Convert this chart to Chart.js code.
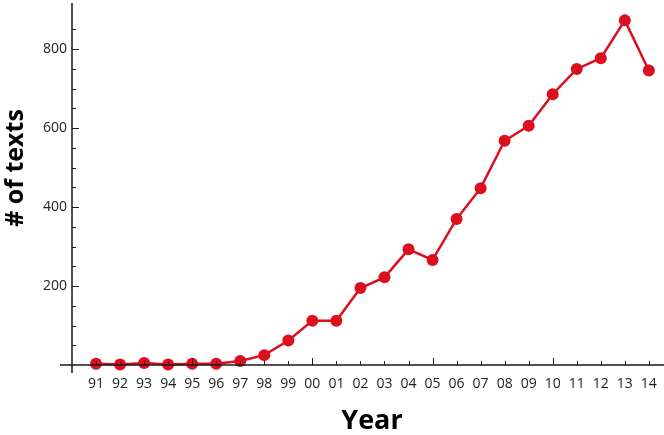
<!DOCTYPE html>
<html>
<head>
<meta charset="utf-8">
<script src="https://cdn.jsdelivr.net/npm/chart.js@4/dist/chart.umd.min.js"></script>
<style>
  html, body { margin: 0; padding: 0; background: #fff; }
  #wrap { width: 664px; height: 435px; position: relative; }
</style>
</head>
<body>
<div id="wrap"><canvas id="c" width="664" height="435"></canvas></div>
<script>
const years = ['91','92','93','94','95','96','97','98','99','00','01','02','03','04','05','06','07','08','09','10','11','12','13','14'];
const texts = [3, 1, 5, 1, 3, 3, 10, 25, 62, 112, 112, 195, 222, 293, 266, 370, 448, 568, 606, 686, 750, 777, 873, 746];
const yMajorTicks = [200, 400, 600, 800];
const yMinorTicks = [50, 100, 150, 250, 300, 350, 450, 500, 550, 650, 700, 750, 850];
const xMajorYears = ['95', '00', '05', '10'];
const xTitle = 'Year';
const yTitle = '# of texts';

const RED = '#dc0f1e';
const INK = '#1a1a1a';
const FONT = '"Open Sans", "Noto Sans", sans-serif';

const axesPlugin = {
  id: 'mathAxes',
  afterDraw(chart) {
    const ctx = chart.ctx;
    const xs = chart.scales.x, ys = chart.scales.y;
    const yAxisX = chart.chartArea.left;
    const xAxisY = ys.getPixelForValue(0);
    ctx.save();
    ctx.strokeStyle = INK;
    ctx.lineWidth = 1.5;
    ctx.beginPath();
    ctx.moveTo(yAxisX, chart.chartArea.top);
    ctx.lineTo(yAxisX, xAxisY + 8);
    ctx.moveTo(yAxisX - 12, xAxisY);
    ctx.lineTo(chart.chartArea.right, xAxisY);
    ctx.stroke();
    ctx.lineWidth = 1;
    ctx.beginPath();
    yMajorTicks.forEach(v => { const p = Math.round(ys.getPixelForValue(v)) + 0.5; ctx.moveTo(yAxisX, p); ctx.lineTo(yAxisX + 7, p); });
    yMinorTicks.forEach(v => { const p = Math.round(ys.getPixelForValue(v)) + 0.5; ctx.moveTo(yAxisX, p); ctx.lineTo(yAxisX + 4, p); });
    years.forEach((yr, i) => {
      const p = Math.round(xs.getPixelForValue(i)) + 0.5;
      const len = xMajorYears.includes(yr) ? 7 : 4;
      ctx.moveTo(p, xAxisY); ctx.lineTo(p, xAxisY - len);
    });
    ctx.stroke();
    ctx.fillStyle = '#000';
    ctx.font = 'bold 27px ' + FONT;
    ctx.textAlign = 'center';
    ctx.textBaseline = 'middle';
    ctx.fillText(xTitle, 372, 421);
    ctx.translate(16, 168);
    ctx.rotate(-Math.PI / 2);
    ctx.font = 'bold 25px ' + FONT;
    ctx.fillText(yTitle, 0, 0);
    ctx.restore();
  }
};

new Chart(document.getElementById('c'), {
  type: 'line',
  data: {
    datasets: [{
      data: texts.map((v, i) => ({ x: i, y: v })),
      borderColor: RED,
      backgroundColor: RED,
      borderWidth: 2.5,
      pointRadius: 6,
      pointHoverRadius: 6,
      pointBorderWidth: 0,
      pointBackgroundColor: RED,
      tension: 0,
      clip: false
    }]
  },
  options: {
    responsive: false,
    animation: false,
    events: [],
    layout: { autoPadding: false, padding: { top: 3, right: 0, bottom: 0, left: 0 } },
    plugins: { legend: { display: false }, tooltip: { enabled: false } },
    scales: {
      x: {
        type: 'linear',
        min: -1,
        max: 23.63,
        afterBuildTicks(s) { s.ticks = years.map((_, i) => ({ value: i })); },
        afterFit(s) { s.height = 70; s.paddingLeft = 0; s.paddingRight = 0; },
        grid: { display: false, drawTicks: false, tickLength: 0 },
        border: { display: false },
        ticks: {
          autoSkip: false,
          maxRotation: 0,
          padding: 11,
          color: '#222',
          font: { family: FONT, size: 14 },
          callback: (v) => years[v] ?? ''
        }
      },
      y: {
        type: 'linear',
        min: 0,
        max: 917,
        afterBuildTicks(s) { s.ticks = yMajorTicks.map(v => ({ value: v })); },
        afterFit(s) { s.width = 72; s.paddingTop = 0; s.paddingBottom = 0; },
        grid: { display: false, drawTicks: false, tickLength: 0 },
        border: { display: false },
        ticks: {
          padding: 5,
          color: '#222',
          font: { family: FONT, size: 14 }
        }
      }
    }
  },
  plugins: [axesPlugin]
});
</script>
</body>
</html>
